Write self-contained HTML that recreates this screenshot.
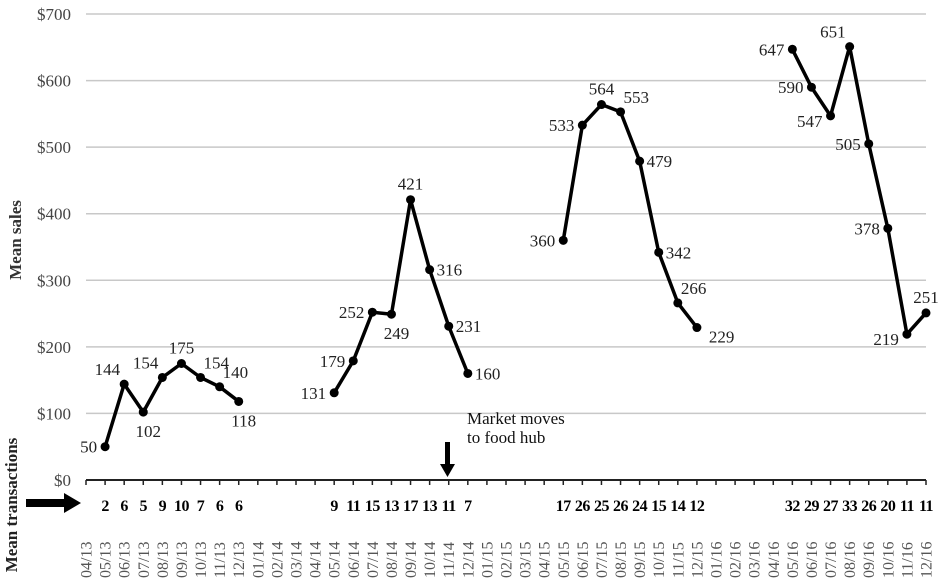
<!DOCTYPE html>
<html><head><meta charset="utf-8"><style>
body{margin:0;background:#fff;}
svg{display:block;font-family:"Liberation Serif",serif;}
</style></head><body>
<svg id="chart" width="951" height="582" viewBox="0 0 951 582" xmlns="http://www.w3.org/2000/svg">
<g id="grid"></g>
<g id="yticks"></g>
<g id="xaxis"></g>
<g id="series"></g>
<g id="trans"></g>
<text transform="translate(21,240) rotate(-90)" text-anchor="middle" font-weight="bold" font-size="17" fill="#333">Mean sales</text>
<text transform="translate(17,505) rotate(-90)" text-anchor="middle" font-weight="bold" font-size="17" fill="#222">Mean transactions</text>
<path d="M26,499 H64 V493 L81,503 L64,513 V507 H26 Z" fill="#000"/>
<text font-size="17" fill="#111"><tspan x="467" y="424">Market moves</tspan><tspan x="467" y="443">to food hub</tspan></text>
<path d="M445,442 H450 V464 H455 L447.5,477 L440,464 H445 Z" fill="#000"/>
</svg>
<script>
const months = ["04/13","05/13","06/13","07/13","08/13","09/13","10/13","11/13","12/13","01/14","02/14","03/14","04/14","05/14","06/14","07/14","08/14","09/14","10/14","11/14","12/14","01/15","02/15","03/15","04/15","05/15","06/15","07/15","08/15","09/15","10/15","11/15","12/15","01/16","02/16","03/16","04/16","05/16","06/16","07/16","08/16","09/16","10/16","11/16","12/16"];
const segStart = [1, 13, 25, 37];
const sales2013 = [50,144,102,154,175,154,140,118];
const sales2014 = [131,179,252,249,421,316,231,160];
const sales2015 = [360,533,564,553,479,342,266,229];
const sales2016 = [647,590,547,651,505,378,219,251];
const trans2013 = [2,6,5,9,10,7,6,6];
const trans2014 = [9,11,15,13,17,13,11,7];
const trans2015 = [17,26,25,26,24,15,14,12];
const trans2016 = [32,29,27,33,26,20,11,11];
const labelPos2013 = ["L","TL","B","TL","T","TR","TR","B"];
const labelPos2014 = ["L","L","L","B","T","R","R","R"];
const labelPos2015 = ["L","L","T","TR","R","R","TR","R2"];
const labelPos2016 = ["L","L","BL","TL","L","L","BL","T"];
const yTicks = [0,100,200,300,400,500,600,700];

const NS="http://www.w3.org/2000/svg";
const X0=86, STEP=(926-86)/44, Y0=480, YS=466/700;
const x=i=>X0+i*STEP, y=v=>Y0-v*YS;
function mk(tag,attrs,parent,text){const e=document.createElementNS(NS,tag);for(const k in attrs)e.setAttribute(k,attrs[k]);if(text!==undefined)e.textContent=text;parent.appendChild(e);return e;}
const grid=document.getElementById('grid'),yt=document.getElementById('yticks'),xa=document.getElementById('xaxis'),ser=document.getElementById('series'),tr=document.getElementById('trans');
yTicks.forEach(v=>{
  if(v>0){const g=mk('line',{x1:X0,x2:926,y1:y(v),y2:y(v),stroke:'#c8c8c8','stroke-width':1.5},grid);
  
  }
  const t=mk('text',{x:71,y:y(v)+6,'text-anchor':'end','font-size':17,fill:'#444'},yt,'$'+v);
  
  
});
mk('line',{x1:X0,x2:926,y1:Y0,y2:Y0,stroke:'#222','stroke-width':2},xa);
months.forEach((m,i)=>{
  mk('line',{x1:x(i),x2:x(i),y1:Y0,y2:Y0+5,stroke:'#222','stroke-width':1.5},xa);
  const t=mk('text',{transform:`translate(${x(i)+5.5},578) rotate(-90)`,'font-size':16,fill:'#555'},xa,m);
  
  
});
const offs={L:[-8,6,'end'],TL:[-4,-9,'end'],T:[0,-10,'middle'],TR:[3,-9,'start'],R:[7,6,'start'],R2:[12,15,'start'],B:[5,25,'middle'],BL:[-8,11,'end']};
const salesAll=[sales2013,sales2014,sales2015,sales2016],transAll=[trans2013,trans2014,trans2015,trans2016],posAll=[labelPos2013,labelPos2014,labelPos2015,labelPos2016];
salesAll.forEach((s,k)=>{
  const pts=s.map((v,j)=>x(segStart[k]+j)+','+y(v)).join(' ');
  const pl=mk('polyline',{points:pts,fill:'none',stroke:'#000','stroke-width':3.5,'stroke-linejoin':'round'},ser);
  
  
  s.forEach((v,j)=>{
    const cx=x(segStart[k]+j),cy=y(v);
    const c=mk('circle',{cx:cx,cy:cy,r:4.5,fill:'#000'},ser);
    
    
    const o=offs[posAll[k][j]];
    const t=mk('text',{x:cx+o[0],y:cy+o[1],'text-anchor':o[2],'font-size':17,fill:'#222'},ser,String(v));
    
    
  });
  transAll[k].forEach((v,j)=>{
    const t=mk('text',{x:x(segStart[k]+j),y:511,'text-anchor':'middle','font-size':16,'font-weight':'bold',fill:'#000','letter-spacing':'-0.5'},tr,String(v));
    
    
  });
});
</script>
</body></html>
